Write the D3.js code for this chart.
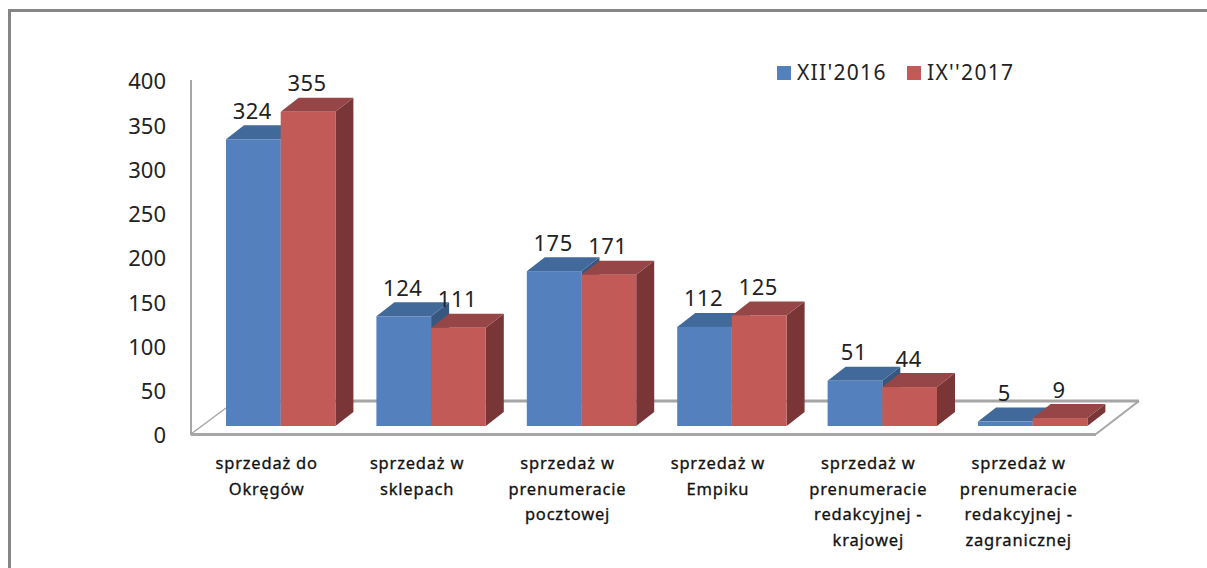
<!DOCTYPE html>
<html><head><meta charset="utf-8">
<script src="https://cdn.jsdelivr.net/npm/d3@7"></script>
<style>html,body{margin:0;padding:0;background:#fff}svg{display:block}</style></head>
<body><svg id="c" width="1207" height="568"></svg>
<script>
const categories=[["sprzedaż do","Okręgów"],["sprzedaż w","sklepach"],["sprzedaż w","prenumeracie","pocztowej"],["sprzedaż w","Empiku"],["sprzedaż w","prenumeracie","redakcyjnej -","krajowej"],["sprzedaż w","prenumeracie","redakcyjnej -","zagranicznej"]];
const seriesNames=["XII'2016","IX''2017"];
const series2016=[324,124,175,112,51,5];
const series2017=[355,111,171,125,44,9];
const yTicks=[0,50,100,150,200,250,300,350,400];
const colors=[{f:"#5481bd",t:"#416a9a",s:"#36577f"},{f:"#c25b58",t:"#964646",s:"#7a3537"}];
const svg=d3.select("#c");
const font="'Noto Sans','Open Sans',sans-serif";
const dx=18,dy=14;
const y=d3.scaleLinear().domain([0,400]).range([426,72]);
const yAxisS=d3.scaleLinear().domain([0,400]).range([434,80]);
const x0=d3.scaleBand().domain(d3.range(6)).range([191,1093.4]);
const bw=54.7;
const groupX=i=>x0(i)+35;
svg.append("path").attr("d","M9.5,568V10.5H1207").attr("fill","none").attr("stroke","#868686").attr("stroke-width",3);
const gray="#a6a6a6";
svg.append("line").attr("x1",226).attr("x2",1139).attr("y1",401).attr("y2",401).attr("stroke",gray).attr("stroke-width",3);
svg.append("path").attr("d","M191,434L226,408").attr("stroke",gray).attr("stroke-width",1.5).attr("fill","none");
svg.append("path").attr("d","M1096,434L1139,401").attr("stroke",gray).attr("stroke-width",2).attr("fill","none");
svg.append("line").attr("x1",191).attr("x2",1096).attr("y1",434.5).attr("y2",434.5).attr("stroke",gray).attr("stroke-width",3);
svg.append("line").attr("x1",191).attr("x2",191).attr("y1",80).attr("y2",435).attr("stroke",gray).attr("stroke-width",2);
const ax=svg.append("g").attr("transform","translate(166,1.5)").call(d3.axisLeft(yAxisS).tickValues(yTicks).tickSize(0).tickPadding(0));
ax.select(".domain").remove();
ax.selectAll("text").attr("font-family",font).attr("font-size",22).attr("fill","#222").attr("text-anchor","end").attr("dy","0.34em");
function bar(g,x,v,c,w){
  const t=y(v),b=y(0);
  g.append("path").attr("d",`M${x+w},${t}L${x+w+dx},${t-dy}V${b-dy}L${x+w},${b}Z`).attr("fill",c.s);
  g.append("path").attr("d",`M${x},${t}L${x+dx},${t-dy}H${x+w+dx}L${x+w},${t}Z`).attr("fill",c.t);
  g.append("rect").attr("x",x).attr("y",t).attr("width",w).attr("height",b-t).attr("fill",c.f);
}
const g=svg.append("g");
const lab=svg.append("g").attr("font-family",font).attr("font-size",22).attr("letter-spacing",0.5).attr("fill","#222").attr("text-anchor","middle");
categories.forEach((c,i)=>{
  const x=groupX(i);
  bar(g,x,series2016[i],colors[0],bw);
  bar(g,x+bw,series2017[i],colors[1],bw);
  lab.append("text").attr("x",x+bw/2-1).attr("y",y(series2016[i])-20.5).text(series2016[i]);
  lab.append("text").attr("x",x+bw*1.5-1).attr("y",y(series2017[i])-20.5).text(series2017[i]);
  const t=svg.append("text").attr("font-family",font).attr("font-size",16.5).attr("letter-spacing",0.8).attr("fill","#111").attr("stroke","#111").attr("stroke-width",0.3).attr("text-anchor","middle");
  c.forEach((s,j)=>t.append("tspan").attr("x",x+bw-14).attr("y",469+j*25.6).text(s));
});
const lg=svg.append("g").attr("font-family",font).attr("font-size",21).attr("letter-spacing",1.3).attr("fill","#222");
[777,907].forEach((lx,i)=>{
  lg.append("rect").attr("x",lx).attr("y",66).attr("width",14).attr("height",14).attr("fill",colors[i].f);
  lg.append("text").attr("x",lx+20).attr("y",80).text(seriesNames[i]);
});
</script></body></html>
